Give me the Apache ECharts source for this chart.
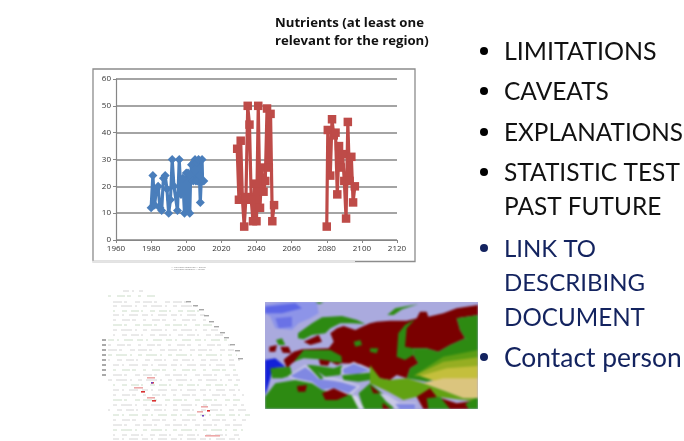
<!DOCTYPE html>
<html><head><meta charset="utf-8">
<script src="https://cdn.jsdelivr.net/npm/echarts@6/dist/echarts.min.js"></script>
<style>
html,body{margin:0;padding:0;background:#fff;width:684px;height:441px;overflow:hidden}
#soft,#crisp{position:absolute;left:0;top:0;width:684px;height:441px}
#soft{filter:blur(0.5px)}
#mapClip{position:absolute;left:265px;top:302px;width:213px;height:107px;overflow:hidden;background:#aaaade}
#mapLayer{position:absolute;left:-265px;top:-302px;width:684px;height:441px;filter:blur(1.3px)}
</style></head><body>
<div id="soft"></div><div id="mapClip"><div id="mapLayer"></div></div><div id="crisp"></div>
<script>
// ---- data ----
const blueYears=[1980,1981,1982,1983,1984,1985,1986,1987,1988,1989,1990,1991,1992,1993,1995,1996,1997,1998,1999,2000,2000.6,2001,2002,2002.5,2003,2004,2004.5,2005,2005.5,2006,2006.5,2007,2007.5,2008,2009,2009.3,2010];
const blueValues=[12,24,13,19,20,12,11,23,24,19,10,15,30,20,11,30,17,23,10,25,11,25,10,24,28,22,29,30,22,29,22,30,24,14,30,22,22];
const redYears=[2029,2030,2031,2032,2033,2034,2035,2036,2037,2038,2039,2040,2041,2042,2043,2044,2045,2046,2047,2048,2049,2050,null,2080,2080.6,2082,2083,2084,2085,2086,2087,2088,2089,2090,2091,2092,2093,2094,2095,2096];
const redValues=[34,15,37,15,5,16,50,43,15,7,21,7,50,12,27,18,22,49,27,47,7,13,null,5,41,24,45,39,40,17,35,27,32,22,8,44,22,31,14,20];
const xTicks={min:1960,max:2120,interval:20};
const yTicks={min:0,max:60,interval:10};
const titleLines=['Nutrients (at least one','relevant for the region)'];
// [text, middle y, bullet?, font px]
const bullets=[['LIMITATIONS',52,1,25],['CAVEATS',92,1,24.5],['EXPLANATIONS',133,1,24.3],['STATISTIC TEST',173,1,24.5],['PAST FUTURE',207,0,24.4],['LINK TO',249,1,24],['DESCRIBING',283,0,24],['DOCUMENT',318,0,24.2],['Contact person',358,1,26.4]];
// slide thumbnail: fan-shaped table rows [y, left, right]
const fanRows=[[291,123,143],[296,108,157],[302,113,190],[306,113,197],[311,113,202],[315,113,205],[320,113,209],[325,113,213],[330,113,218],[335,113,223],[340,108,227],[345,108,231],[350,108,234],[355,108,237],[360,108,240],[365,113,238],[370,113,236],[375,113,238],[380,108,240],[385,113,238],[390,113,240],[395,113,244],[400,113,240],[405,113,244],[410,108,248],[415,113,250],[420,113,246],[425,113,243],[430,113,243],[435,113,243],[439,113,243]];
const fanDashes=[[6,3,2,5,9,4],[3,6,8,2,4,7],[9,2,3,8,5,3],[4,4,11,3,2,6],[2,7,5,4,8,2]];
const fanSpots=[[147,377,'#eda8a8',8],[151,382,'#d94040',3],[134,387,'#eda8a8',9],[141,391,'#d93030',4],[147,397,'#eda8a8',8],[152,400,'#d93030',4],[201,406,'#eda8a8',7],[197,411,'#eda8a8',6],[207,410,'#d93030',3],[202,415,'#7040c0',2],[151,382,'#7040c0',2],[205,435,'#eda8a8',15]];
const fanMarks=[340,345,350,355,360,365,370,375];
const fanEdge=[[186,301],[193,305],[199,309],[204,315],[209,321],[214,326],[220,332],[224,337],[230,344],[235,350],[238,358]];
// slide thumbnail: map shapes, in crop units
const G='#2d8a12',R='#7a0000',P='#8088e2';
const mapShapes=[
['#aaaade',[[9,6],[648,6],[648,327],[9,327]]],
['#8d94e8',[[9,14],[60,6],[165,6],[170,40],[145,55],[110,70],[90,90],[40,85],[25,50],[9,40]]],
['#5c66e6',[[9,20],[100,10],[120,25],[60,40],[9,40]]],
['#6a72e6',[[40,55],[90,50],[90,80],[50,85]]],
['#1320d8',[[9,180],[40,175],[70,200],[30,205],[25,235],[15,270],[9,285]]],
[G,[[160,6],[185,6],[172,12]]],
[G,[[108,100],[150,70],[180,52],[240,48],[285,60],[310,72],[270,70],[235,70],[205,85],[190,100],[150,105],[125,118],[108,115]]],
[R,[[125,125],[170,105],[180,125],[145,135]]],
[G,[[376,45],[400,25],[470,12],[420,28],[395,45]]],
[R,[[70,175],[95,155],[120,148],[200,145],[215,125],[205,100],[225,85],[245,78],[280,90],[300,80],[324,70],[344,65],[384,62],[434,62],[464,55],[474,35],[494,35],[499,50],[544,40],[584,25],[648,15],[648,45],[584,55],[594,90],[609,115],[564,135],[529,155],[494,145],[454,145],[454,165],[469,190],[444,205],[434,235],[404,225],[384,240],[354,235],[324,205],[294,192],[240,190],[225,195],[205,185],[170,175],[120,170],[90,190],[75,205],[65,180]]],
[G,[[275,125],[295,120],[300,135],[280,140]]],
[G,[[324,145],[349,145],[344,160],[324,155]]],
[G,[[409,100],[429,75],[459,58],[434,85],[429,140],[454,145],[454,165],[429,180],[404,170]]],
[G,[[584,55],[648,45],[648,135],[609,115],[594,90]]],
[G,[[454,145],[494,145],[529,155],[564,135],[609,115],[648,130],[648,240],[574,225],[494,245],[434,235],[444,205],[469,190],[454,165]]],
['#5c9e14',[[454,228],[544,170],[648,150],[648,225],[594,215]]],
['#96ae22',[[460,226],[544,185],[648,172],[648,232],[560,240]]],
['#c4bf3c',[[474,228],[554,205],[648,198],[648,240],[524,245]]],
['#dbc57e',[[484,250],[544,235],[648,235],[648,295],[604,295],[554,275]]],
['#62a212',[[324,195],[354,235],[384,240],[434,235],[484,250],[554,275],[604,295],[648,295],[648,305],[524,290],[464,290],[424,300],[379,275],[324,250]]],
[G,[[95,185],[125,150],[205,150],[238,168],[240,188],[205,185],[170,178],[125,175]]],
[R,[[170,178],[205,183],[198,197],[175,195]]],
[G,[[150,195],[215,205],[240,195],[235,225],[190,230],[160,210]]],
[G,[[25,205],[85,200],[90,225],[60,235],[30,235]]],
['#c8c8e6',[[78,228],[130,194],[155,212],[175,230],[218,234],[245,240],[295,258],[265,288],[215,272],[180,278],[148,252],[100,242]]],
[P,[[85,228],[130,202],[150,217],[170,237],[215,242],[240,247],[285,260],[260,280],[215,265],[180,270],[150,245],[100,235]]],
[G,[[135,195],[150,195],[185,235],[175,238]]],
['#c8c8e6',[[236,205],[275,185],[324,207],[295,226],[240,226]]],
[P,[[242,207],[275,191],[322,210],[290,222],[245,222]]],
[G,[[240,226],[324,218],[324,240],[290,245],[245,240]]],
[G,[[9,290],[40,250],[100,240],[150,250],[180,270],[200,275],[270,285],[290,300],[305,327],[9,327]]],
[R,[[105,258],[135,255],[130,275],[108,275]]],
[R,[[180,280],[215,265],[260,285],[225,300],[190,300]]],
[G,[[290,280],[324,250],[364,282],[394,320],[394,327],[305,327]]],
['#d6d6ea',[[268,285],[285,288],[307,327],[290,327]]],
[G,[[42,120],[60,115],[70,135],[50,135]]],
[R,[[55,140],[80,140],[88,160],[62,158]]],
[R,[[22,140],[45,135],[40,155],[22,155]]],
[R,[[324,255],[354,280],[334,280]]],
['#c8c8e6',[[352,280],[376,284],[412,308],[462,308],[462,327],[400,327],[372,304]]],
[P,[[400,312],[460,312],[460,327],[412,327]]],
[R,[[362,308],[385,327],[362,327]]],
[R,[[464,290],[504,265],[524,290],[584,310],[648,300],[648,327],[484,327]]],
[G,[[494,295],[534,290],[564,327],[499,327]]],
[G,[[610,312],[640,295],[648,295],[648,327],[620,327]]]
];
const legendLines=['— Nutrients observed — series','— Nutrients scenario — series'];

// ---- build ----
const pairs=(xs,ys)=>xs.map((x,i)=>[x,ys[i]]);
const axisGrey='#868686';
const font='"Open Sans"';
const softG=[];
// chart frame
softG.push({type:'rect',silent:true,shape:{x:93,y:69,width:322,height:192.5},style:{fill:'none',stroke:'#8c8c8c',lineWidth:1.3}});
softG.push({type:'line',silent:true,shape:{x1:92,y1:261.5,x2:355,y2:261.5},style:{stroke:'#e4e4e4',lineWidth:1.6}});
legendLines.forEach((t,i)=>softG.push({type:'text',x:171,y:266+i*2.4,style:{text:t,font:'2.4px '+font,fill:'#777'}}));
// fan table
fanRows.forEach((r,i)=>softG.push({type:'line',silent:true,shape:{x1:r[1],y1:r[0],x2:r[2],y2:r[0]},style:{stroke:i%3==1?'#cbdcc8':'#d4d4d4',lineWidth:1,lineDash:fanDashes[i%fanDashes.length]}}));
fanMarks.forEach(y=>softG.push({type:'rect',silent:true,shape:{x:102,y:y-1,width:4,height:2},style:{fill:'#aaa'}}));
fanEdge.forEach(p=>softG.push({type:'rect',silent:true,shape:{x:p[0],y:p[1],width:5,height:1.4},style:{fill:'#a8a8a8'}}));
fanSpots.forEach(s=>softG.push({type:'rect',silent:true,shape:{x:s[0],y:s[1],width:s[3],height:1.6},style:{fill:s[2]}}));

echarts.init(document.getElementById('soft'),null,{renderer:'canvas'}).setOption({
 animation:false,backgroundColor:'transparent',
 grid:{left:116,right:287,top:79,bottom:201,containLabel:false},
 xAxis:{type:'value',...xTicks,axisLine:{show:true,onZero:false,lineStyle:{color:axisGrey,width:1.2}},axisTick:{show:true,length:3,lineStyle:{color:axisGrey}},splitLine:{show:false},axisLabel:{fontFamily:font,fontSize:8,color:'#333',margin:5,showMinLabel:true,showMaxLabel:true,formatter:v=>String(v)}},
 yAxis:{type:'value',...yTicks,axisLine:{show:true,lineStyle:{color:axisGrey,width:1.2}},axisTick:{show:true,length:3,lineStyle:{color:axisGrey}},splitLine:{show:true,lineStyle:{color:axisGrey,width:1.5}},axisLabel:{fontFamily:font,fontSize:8,color:'#333',margin:5}},
 series:[
  {type:'line',data:pairs(blueYears,blueValues),symbol:'diamond',symbolSize:9,lineStyle:{color:'#4a7ebb',width:3.2},itemStyle:{color:'#4a7ebb'},z:3},
  {type:'line',data:pairs(redYears,redValues),connectNulls:false,symbol:'rect',symbolSize:8.5,lineStyle:{color:'#be4b48',width:3.2},itemStyle:{color:'#be4b48'},z:4}
 ],
 graphic:softG
});

// map layer
echarts.init(document.getElementById('mapLayer')).setOption({animation:false,backgroundColor:'transparent',
 graphic:[{type:'group',x:262,y:300,scaleX:1/3,scaleY:1/3,children:mapShapes.map(m=>({type:'polygon',silent:true,shape:{points:m[1]},style:{fill:m[0]}}))}]});

const crispG=[];
titleLines.forEach((t,i)=>crispG.push({type:'text',x:275,y:23+i*18,style:{text:t,font:'bold 13.2px "Open Sans"',fill:'#111',textVerticalAlign:'middle'}}));
bullets.forEach(b=>{
 const col=(b[1]>=249)?'#13235f':'#111';
 crispG.push({type:'text',x:504,y:b[1],style:{text:b[0],font:b[3]+'px Lato',fill:col,textVerticalAlign:'middle'}});
 if(b[2])crispG.push({type:'circle',silent:true,shape:{cx:484,cy:b[1]-1,r:4},style:{fill:b[1]>=249?'#13235f':'#000'}});
});
echarts.init(document.getElementById('crisp')).setOption({animation:false,backgroundColor:'transparent',graphic:crispG});
</script></body></html>
